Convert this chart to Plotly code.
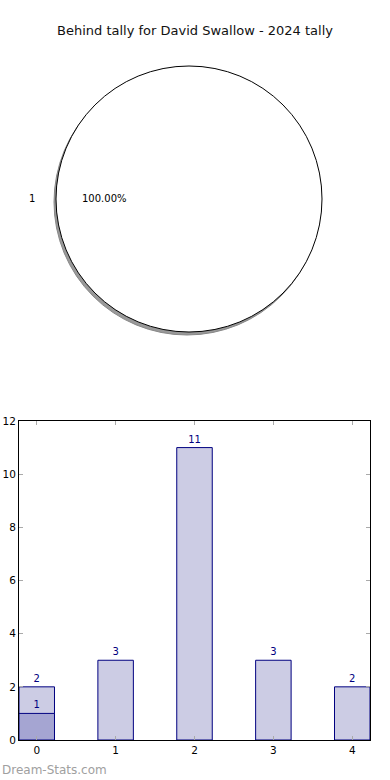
import plotly.graph_objects as go

title = "Behind tally for David Swallow - 2024 tally"
pie_labels = ["1"]
pie_values = [1]

categories = [0, 1, 2, 3, 4]
counts = [2, 3, 11, 3, 2]
highlight_cat = [0]
highlight_val = [1]
yticks = [0, 2, 4, 6, 8, 10, 12]

W, H = 390, 780
def px_x(x): return x / W
def px_y(y): return 1 - y / H

cx, cy, d = 189, 199, 266
fig = go.Figure()
# shadow
fig.add_trace(go.Pie(labels=pie_labels, values=pie_values, sort=False,
                     marker=dict(colors=["#999999"], line=dict(color="#888888", width=1)),
                     textinfo="none", hoverinfo="skip", showlegend=False,
                     domain=dict(x=[px_x(cx - d/2 - 2), px_x(cx + d/2 - 2)],
                                 y=[px_y(cy + d/2 + 3), px_y(cy - d/2 + 3)])))
fig.add_trace(go.Pie(labels=pie_labels, values=pie_values, sort=False,
                     marker=dict(colors=["white"], line=dict(color="black", width=1)),
                     textinfo="none", showlegend=False,
                     domain=dict(x=[px_x(cx - d/2), px_x(cx + d/2)],
                                 y=[px_y(cy + d/2), px_y(cy - d/2)])))

total = sum(pie_values)
annotations = [
    dict(text=pie_labels[0], x=px_x(32), y=px_y(198), xref="paper", yref="paper",
         xanchor="center", yanchor="middle",
         showarrow=False, font=dict(size=10, color="black")),
    dict(text=f"{pie_values[0]/total*100:.2f}%", x=px_x(104), y=px_y(198), xref="paper", yref="paper",
         xanchor="center", yanchor="middle",
         showarrow=False, font=dict(size=10, color="black")),
    dict(text="Dream-Stats.com", x=0, y=px_y(770), xref="paper", yref="paper",
         xanchor="left", yanchor="middle", showarrow=False, font=dict(size=12, color="#a0a0a0")),
]

fig.add_trace(go.Bar(x=categories, y=counts, width=0.45, xaxis="x", yaxis="y",
                     marker=dict(color="rgb(204,204,228)", line=dict(color="#000080", width=1)),
                     text=[str(c) for c in counts], textposition="outside",
                     textfont=dict(size=10, color="#000080"), cliponaxis=False, showlegend=False))
fig.add_trace(go.Bar(x=highlight_cat, y=highlight_val, width=0.45, xaxis="x", yaxis="y",
                     marker=dict(color="rgb(165,165,210)", line=dict(color="#000080", width=1)),
                     text=[str(v) for v in highlight_val], textposition="outside",
                     textfont=dict(size=10, color="#000080"), cliponaxis=False, showlegend=False))

fig.update_layout(
    width=W, height=H, margin=dict(l=0, r=0, t=0, b=0, autoexpand=False),
    paper_bgcolor="white", plot_bgcolor="white",
    font=dict(family="DejaVu Sans", size=10, color="black"),
    barmode="overlay", annotations=annotations,
    title=dict(text=title, x=0.5, xanchor="center", y=px_y(30), yanchor="middle",
               font=dict(size=13, color="#111111")),
    xaxis=dict(domain=[px_x(19), px_x(370)], range=[-0.225, 4.225], automargin=False,
               tickvals=categories, ticktext=[str(c) for c in categories],
               showline=True, linecolor="black", linewidth=1, mirror="ticks",
               ticks="inside", ticklen=4, tickcolor="#aaaaaa", showgrid=False, zeroline=False,
               tickfont=dict(size=10.5)),
    yaxis=dict(domain=[px_y(740), px_y(421)], range=[0, 12], tickvals=yticks, automargin=False,
               showline=True, linecolor="black", linewidth=1, mirror="ticks",
               ticks="inside", ticklen=4, tickcolor="#aaaaaa", showgrid=False, zeroline=False,
               tickfont=dict(size=10.5)),
)
fig.write_html("out.html")
